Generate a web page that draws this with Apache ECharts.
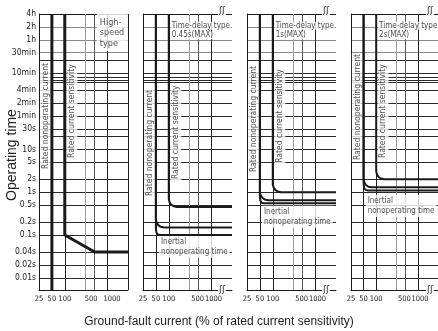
<!DOCTYPE html>
<html><head><meta charset="utf-8">
<script src="https://cdn.jsdelivr.net/npm/echarts@6/dist/echarts.min.js"></script>
<style>html,body{margin:0;padding:0;background:#fff}#c{width:438px;height:331px}</style>
</head><body><div id="c"></div>
<script>
// ---------- data ----------
const yTickSeconds = [0.01, 0.02, 0.04, 0.1, 0.2, 0.5, 1, 2, 5, 10, 30, 60, 120, 240, 600, 1800, 3600, 7200, 14400];
const yTickLabels = ['0.01s','0.02s','0.04s','0.1s','0.2s','0.5s','1s','2s','5s','10s','30s','1min','2min','4min','10min','30min','1h','2h','4h'];
const yGridSeconds = [0.01, 0.02, 0.04, 0.1, 0.2, 0.5, 1, 2, 5, 10, 20, 30, 60, 120, 240, 360, 420, 480, 600, 1200, 1800, 3600, 7200, 14400];
const xTickValues = [25, 50, 100, 500, 1000];
const xGridValues = [50, 100, 300, 500, 1000];
const xRange = [25, 3000];
const yRange = [0.0052, 14400];

const yTitle = 'Operating time';
const xTitle = 'Ground-fault current (% of rated current sensitivity)';
const panelTitles = ['High-\nspeed\ntype', 'Time-delay type\n0.45s(MAX)', 'Time-delay type\n1s(MAX)', 'Time-delay type\n2s(MAX)'];
const nonopText = 'Rated nonoperating current';
const sensText = 'Rated current sensitivity';
const inertialText = 'Inertial\nnonoperating time';

// High-speed type
const hsNonoperating = [[50, 14400], [50, 0.0052]];
const hsOperating = [[100, 14400], [100, 0.1], [500, 0.04], [3000, 0.04]];
// Time-delay 0.45s
const td045Max = [[100, 14400], [100, 0.7], [104, 0.58], [114, 0.51], [130, 0.47], [155, 0.45], [3000, 0.45]];
const td045Upper = [[50, 14400], [50, 0.23], [52, 0.195], [57, 0.17], [65, 0.155], [77, 0.15], [3000, 0.15]];
const td045Lower = [[50, 14400], [50, 0.14], [51.5, 0.115], [55, 0.103], [62, 0.1], [3000, 0.1]];
// Time-delay 1s
const td1Max = [[100, 14400], [100, 1.55], [104, 1.3], [114, 1.13], [130, 1.04], [155, 1], [3000, 1]];
const td1Upper = [[50, 14400], [50, 1.0], [52, 0.85], [57, 0.74], [65, 0.67], [77, 0.65], [3000, 0.65]];
const td1Lower = [[50, 14400], [50, 0.77], [51.5, 0.63], [55, 0.565], [62, 0.55], [3000, 0.55]];
// Time-delay 2s
const td2Max = [[100, 14400], [100, 3.1], [104, 2.6], [114, 2.26], [130, 2.08], [155, 2], [3000, 2]];
const td2Upper = [[50, 14400], [50, 2.0], [52, 1.7], [57, 1.47], [65, 1.34], [77, 1.3], [3000, 1.3]];
const td2Lower = [[50, 14400], [50, 1.54], [51.5, 1.27], [55, 1.13], [62, 1.1], [3000, 1.1]];

// ---------- layout / style ----------
const NARROW = "'DejaVu Sans Condensed','Liberation Sans Narrow',sans-serif";
const SANS = "'Liberation Sans',Arial,sans-serif";
const INK = '#1a1a1a';
const PANEL_LEFT = [39, 143, 247, 351];
const PANEL_W = 89, PANEL_TOP = 14, PANEL_H = 276;

// annotation anchors (data coords)
const annot = [
  {title: [560, 14400], nonop: [35.5, 60], sens: [146, 78], inertial: null},
  {title: [111, 9880], nonop: [35.5, 14], sens: [146, 25], inertial: [59, 0.095]},
  {title: [111, 9880], nonop: [35.5, 51], sens: [146, 60], inertial: [56, 0.48]},
  {title: [111, 9880], nonop: [35.5, 97], sens: [146, 78], inertial: [56, 0.86]}
];

function nearestLabel(v) {
  const lv = Math.log10(v);
  for (let i = 0; i < yTickSeconds.length; i++) {
    if (Math.abs(Math.log10(yTickSeconds[i]) - lv) < 0.01) return yTickLabels[i];
  }
  return '';
}

const grids = PANEL_LEFT.map(l => ({left: l, top: PANEL_TOP, width: PANEL_W, height: PANEL_H}));

const xColors = v => v === 300 ? '#9a9a9a' : (v === 500 ? '#555' : '#222');
const xAxes = PANEL_LEFT.map((l, i) => {
  const gv = i === 0 ? xGridValues.concat([xRange[1]]) : xGridValues;
  const gapL = i === 0 ? 7 : 2, gapR = i === 0 ? 9 : 4;
  return {
    type: 'log', logBase: 10, gridIndex: i, min: xRange[0], max: xRange[1],
    axisLine: {show: true, onZero: false, lineStyle: {color: INK, width: 1}},
    axisTick: {show: false, customValues: gv},
    axisLabel: {
      customValues: xTickValues, margin: 5, fontSize: 7.5, fontFamily: NARROW, color: '#222', hideOverlap: false,
      formatter: v => {
        const r = Math.round(v);
        if (r === 500) return '{l|500}';
        if (r === 1000) return '{r|1000}';
        return String(r);
      },
      rich: {l: {padding: [0, gapL, 0, 0], fontSize: 7.5, fontFamily: NARROW, color: '#222'},
             r: {padding: [0, 0, 0, gapR], fontSize: 7.5, fontFamily: NARROW, color: '#222'}}
    },
    splitLine: {show: true, lineStyle: {color: gv.map(xColors), width: 1}},
    minorTick: {show: false}, minorSplitLine: {show: false}
  };
});

const yColors = yGridSeconds.map(v => v === 14400 ? INK : (v >= 1800 ? '#8a8a8a' : '#2a2a2a'));
const yAxes = PANEL_LEFT.map((l, i) => ({
  type: 'log', logBase: 10, gridIndex: i, min: yRange[0], max: yRange[1],
  axisLine: {show: true, lineStyle: {color: INK, width: 1}},
  axisTick: {show: false, customValues: yGridSeconds},
  axisLabel: {show: i === 0, customValues: yTickSeconds, formatter: nearestLabel, margin: 3,
    fontSize: 8.5, fontFamily: NARROW, color: '#222', hideOverlap: false},
  splitLine: {show: true, lineStyle: {color: yColors, width: 1}},
  minorTick: {show: false}, minorSplitLine: {show: false}
}));

const textBase = {show: true, fontFamily: NARROW, color: '#222'};
const series = [];
annot.forEach((a, i) => {
  const items = [];
  items.push({value: a.nonop, label: Object.assign({}, textBase, {position: 'inside', rotate: 90, formatter: nonopText,
    fontSize: 8.5, backgroundColor: '#fff', padding: [1, 1]})});
  items.push({value: a.sens, label: Object.assign({}, textBase, {position: 'inside', rotate: 90, formatter: sensText,
    fontSize: 8.5, backgroundColor: '#fff', padding: [1, 1]})});
  if (i === 0) {
    items.push({value: a.title, label: Object.assign({}, textBase, {position: 'inside', align: 'left', verticalAlign: 'top',
      formatter: panelTitles[0], fontSize: 9, lineHeight: 10.5, backgroundColor: '#fff', padding: [3, 1, 2, 3], width: 27, height: 32})});
  } else {
    const lines = panelTitles[i].split('\n').map(s => '{b|' + s + '}').join('\n');
    items.push({value: a.title, label: Object.assign({}, textBase, {position: 'inside', align: 'left', verticalAlign: 'top',
      formatter: lines, rich: {b: {backgroundColor: '#fff', padding: [0, 1], fontSize: 8, lineHeight: 9.5, fontFamily: NARROW, color: '#222'}}})});
    items.push({value: a.inertial, label: Object.assign({}, textBase, {position: 'inside', align: 'left', verticalAlign: 'top',
      formatter: inertialText, fontSize: 8, lineHeight: 10, backgroundColor: '#fff', padding: [1, 2]})});
  }
  series.push({type: 'scatter', xAxisIndex: i, yAxisIndex: i, symbolSize: 0, silent: true, z: 2, clip: false, data: items});
});

function curve(i, data, w) {
  return {type: 'line', xAxisIndex: i, yAxisIndex: i, data: data, symbol: 'none', silent: true, z: 4,
    lineStyle: {color: INK, width: w, join: 'round'}, clip: true};
}
series.push(curve(0, hsNonoperating, 3), curve(0, hsOperating, 3));
series.push(curve(1, td045Max, 2), curve(1, td045Upper, 2), curve(1, td045Lower, 2));
series.push(curve(2, td1Max, 2), curve(2, td1Upper, 2), curve(2, td1Lower, 2));
series.push(curve(3, td2Max, 2), curve(3, td2Upper, 2), curve(3, td2Lower, 2));

const graphic = [];
[1, 2, 3].forEach(i => {
  [6, 285].forEach(t => {
    graphic.push({type: 'text', left: PANEL_LEFT[i] + 75, top: t, z: 10, silent: true,
      style: {text: '\u0283\u0283', font: '9px DejaVu Sans', fill: '#222', backgroundColor: '#fff', padding: [0, 1]}});
  });
});
graphic.push({type: 'text', x: 12, y: 155, rotation: Math.PI / 2, silent: true,
  style: {text: yTitle, font: '14px ' + SANS, fill: '#222', align: 'center', verticalAlign: 'middle'}});

const chart = echarts.init(document.getElementById('c'), null, {renderer: 'canvas'});
chart.setOption({
  animation: false,
  backgroundColor: '#fff',
  title: {text: xTitle, left: 'center', top: 311,
    textStyle: {fontSize: 12, fontWeight: 'normal', fontFamily: SANS, color: '#222'}},
  grid: grids, xAxis: xAxes, yAxis: yAxes, series: series, graphic: graphic
});
</script></body></html>
